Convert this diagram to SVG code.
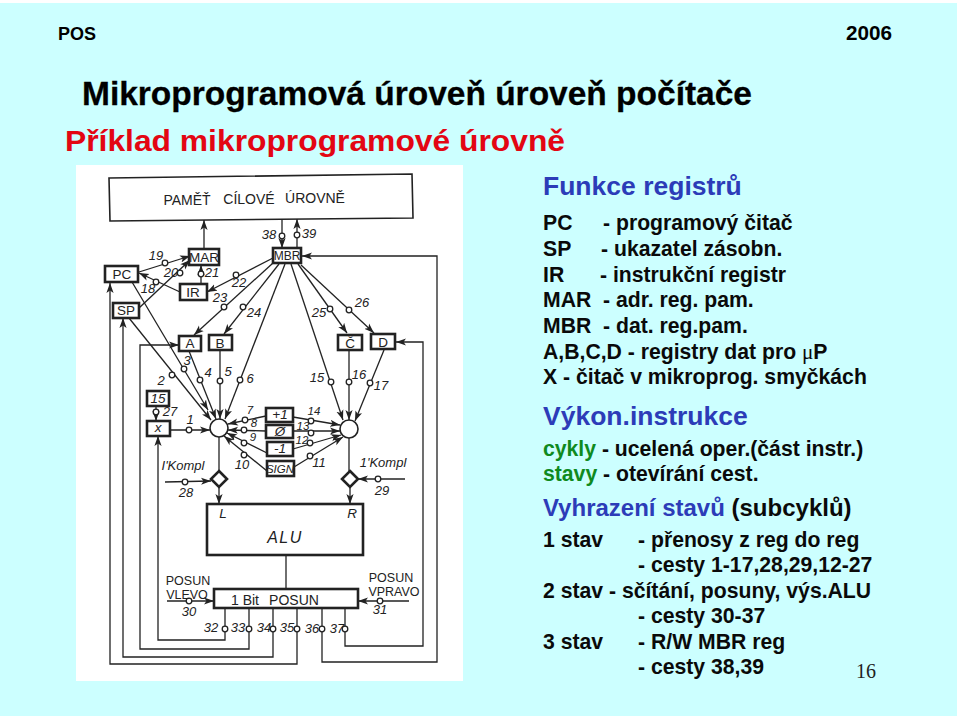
<svg xmlns="http://www.w3.org/2000/svg" width="960" height="720" viewBox="0 0 960 720">
<style>
text{font-family:"Liberation Sans",Arial,sans-serif}
.hd{font-weight:700;fill:#000}
.h2{font-size:26.5px;font-weight:700;fill:#2c3cb8}
.b{font-size:21.2px;font-weight:700;fill:#0a0a0a}
.g{fill:#0f8a1e}
.mu{font-family:"Liberation Serif",serif;font-weight:400}
.box{fill:#fff;stroke:#222;stroke-width:2.6}
.thin{stroke-width:1.6}
.lb{font-size:13px;font-style:italic;fill:#222;text-anchor:middle}
.sm{font-size:11.5px}
.nm{font-size:13.5px;fill:#222;text-anchor:middle}
.it{font-style:italic}
.c{fill:none;stroke:#222;stroke-width:1.3}
.a{marker-end:url(#ah)}
.sw{fill:#fff;stroke:#222;stroke-width:1.3}
</style>
<defs>
<marker id="ah" markerWidth="11" markerHeight="8" refX="10" refY="4" orient="auto" markerUnits="userSpaceOnUse"><path d="M0 0.4L10 4L0 7.6L2.5 4Z" fill="#222"/></marker>
</defs>
<rect width="960" height="720" fill="#fff"/>
<rect x="0" y="3" width="957" height="713" fill="#ccffff"/>
<rect x="76" y="165" width="387" height="516" fill="#fff"/>
<text id="hdr-l" class="hd" x="58" y="40" font-size="19" textLength="38" lengthAdjust="spacingAndGlyphs">POS</text>
<text id="hdr-r" class="hd" x="846" y="40" font-size="20" textLength="46" lengthAdjust="spacingAndGlyphs">2006</text>
<text id="title" class="hd" x="82" y="105" font-size="34" stroke="#000" stroke-width=".3" textLength="670" lengthAdjust="spacingAndGlyphs">Mikroprogramová úroveň úroveň počítače</text>
<text id="subtitle" x="65" y="151" font-size="29" font-weight="700" fill="#e30613" textLength="500" lengthAdjust="spacingAndGlyphs">Příklad mikroprogramové úrovně</text>

<g id="connectors">
<path class="c a" d="M204 248V220"/>
<path class="c a" d="M282 219V248"/>
<path class="c a" d="M297 248V219"/>
<path class="c a" d="M139 272L190 256"/>
<path class="c a" d="M139 308L190 260"/>
<path class="c a" d="M201 284V265"/>
<path class="c a" d="M180 292L139 273"/>
<path class="c a" d="M273 258L207 292"/>
<path class="c a" d="M273 263L194 335"/>
<path class="c a" d="M279 264L224 334"/>
<path class="c a" d="M285 264L225 419"/>
<path class="c a" d="M291 264L343 420"/>
<path class="c a" d="M298 264L347 333"/>
<path class="c a" d="M301 265L374 333"/>
<path class="c a" d="M132 282L208 410"/>
<path class="c a" d="M129 318L211 420"/>
<path class="c a" d="M189 351L216 419"/>
<path class="c a" d="M220 350V419"/>
<path class="c a" d="M349 350V420"/>
<path class="c a" d="M384 350L355 421"/>
<path class="c a" d="M156 406V421"/>
<path class="c a" d="M170 430H210"/>
<path class="c a" d="M266 416L228 424"/>
<path class="c a" d="M266 431L228 430"/>
<path class="c a" d="M267 453L227 433"/>
<path class="c a" d="M267 471L224 436"/>
<path class="c a" d="M293 417L340 425"/>
<path class="c a" d="M293 431L340 431"/>
<path class="c a" d="M293 449L341 435"/>
<path class="c a" d="M294 467L343 437"/>
<path class="c" d="M219 437V471"/>
<path class="c" d="M349 438V471"/>
<path class="c a" d="M219 487V504"/>
<path class="c a" d="M350 487V504"/>
<path class="c a" d="M165 482L211 481"/>
<path class="c a" d="M405 479H358"/>
<path class="c a" d="M167 601H214"/>
<path class="c a" d="M409 601H358"/>
<path class="c" d="M286 555V589"/>
<path class="c a" d="M225 608V640H158V436"/>
<path class="c a" d="M249 608V649H140V345H179"/>
<path class="c a" d="M273 608V657H123V318"/>
<path class="c a" d="M297 608V664H110V283"/>
<path class="c a" d="M322 608V662H437V256H302"/>
<path class="c a" d="M345 608V646H423V342H396"/>
<g id="switches">
<circle class="sw" cx="282" cy="236" r="2.8"/><circle class="sw" cx="297" cy="235" r="2.8"/>
<circle class="sw" cx="165" cy="263" r="2.8"/><circle class="sw" cx="180" cy="273" r="2.8"/>
<circle class="sw" cx="201" cy="274" r="2.8"/><circle class="sw" cx="156" cy="282" r="2.8"/>
<circle class="sw" cx="236" cy="275" r="2.8"/><circle class="sw" cx="224" cy="307" r="2.8"/>
<circle class="sw" cx="243" cy="307" r="2.8"/><circle class="sw" cx="240" cy="380" r="2.8"/>
<circle class="sw" cx="331" cy="382" r="2.8"/><circle class="sw" cx="330" cy="309" r="2.8"/>
<circle class="sw" cx="349" cy="310" r="2.8"/><circle class="sw" cx="184" cy="369" r="2.8"/>
<circle class="sw" cx="172" cy="375" r="2.8"/><circle class="sw" cx="200" cy="380" r="2.8"/>
<circle class="sw" cx="220" cy="381" r="2.8"/><circle class="sw" cx="349" cy="382" r="2.8"/>
<circle class="sw" cx="370" cy="383" r="2.8"/><circle class="sw" cx="156" cy="412" r="2.8"/>
<circle class="sw" cx="189" cy="430" r="2.8"/><circle class="sw" cx="245" cy="420" r="2.8"/>
<circle class="sw" cx="244" cy="430" r="2.8"/><circle class="sw" cx="244" cy="443" r="2.8"/>
<circle class="sw" cx="244" cy="455" r="2.8"/><circle class="sw" cx="311" cy="421" r="2.8"/>
<circle class="sw" cx="311" cy="433" r="2.8"/><circle class="sw" cx="310" cy="443" r="2.8"/>
<circle class="sw" cx="310" cy="456" r="2.8"/><circle class="sw" cx="185" cy="482" r="2.8"/>
<circle class="sw" cx="378" cy="479" r="2.8"/><circle class="sw" cx="189" cy="601" r="2.8"/>
<circle class="sw" cx="380" cy="601" r="2.8"/><circle class="sw" cx="225" cy="629" r="2.8"/>
<circle class="sw" cx="249" cy="629" r="2.8"/><circle class="sw" cx="273" cy="629" r="2.8"/>
<circle class="sw" cx="297" cy="629" r="2.8"/><circle class="sw" cx="322" cy="629" r="2.8"/>
<circle class="sw" cx="345" cy="629" r="2.8"/>
</g>
</g>

<g id="memory"><polygon class="box thin" points="109,178 412,174 413,218 110,221"/><text class="nm" x="187" y="205" style="font-size:14px">PAMĚŤ</text><text class="nm" x="249" y="204" style="font-size:14px">CÍLOVÉ</text><text class="nm" x="315" y="203" style="font-size:14px">ÚROVNĚ</text></g>
<g id="mbr"><rect class="box" x="273" y="248" width="28" height="15"/><text class="nm" x="287" y="260" style="font-size:12px">MBR</text></g>
<g id="mar"><rect class="box" x="189" y="249" width="30" height="16"/><text class="nm" x="204" y="262">MAR</text></g>
<g id="pc"><rect class="box" x="105" y="266" width="33" height="16"/><text class="nm" x="122" y="279">PC</text></g>
<g id="ir"><rect class="box" x="180" y="284" width="27" height="16"/><text class="nm" x="193" y="297">IR</text></g>
<g id="sp"><rect class="box" x="113" y="303" width="26" height="15"/><text class="nm" x="126" y="315">SP</text></g>
<g id="a"><rect class="box" x="179" y="336" width="22" height="15"/><text class="nm" x="190" y="348">A</text></g>
<g id="b"><rect class="box" x="209" y="335" width="23" height="15"/><text class="nm" x="220" y="348">B</text></g>
<g id="c"><rect class="box" x="338" y="335" width="24" height="15"/><text class="nm" x="350" y="348">Č</text></g>
<g id="d"><rect class="box" x="371" y="334" width="24" height="15"/><text class="nm" x="383" y="347">D</text></g>
<g id="r15"><rect class="box" x="147" y="391" width="22" height="15"/><text class="nm it" x="158" y="403">15</text></g>
<g id="x"><rect class="box" x="147" y="421" width="23" height="15"/><text class="nm it" x="158" y="432">x</text></g>
<g id="busL"><circle class="box thin" cx="219" cy="428" r="9"/></g>
<g id="busR"><circle class="box thin" cx="349" cy="429" r="9"/></g>
<g id="plus1"><rect class="box" x="266" y="408" width="27" height="14"/><text class="nm it" x="280" y="419">+1</text></g>
<g id="zero"><rect class="box" x="266" y="425" width="27" height="13"/><text class="nm it" x="280" y="436">Ø</text></g>
<g id="minus1"><rect class="box" x="267" y="442" width="26" height="14"/><text class="nm it" x="280" y="453">-1</text></g>
<g id="sign"><rect class="box" x="267" y="461" width="27" height="15"/><text class="nm it" x="280" y="473" style="font-size:11.5px">SIGN</text></g>
<g id="dL"><polygon class="box" points="219,471 227,479 219,487 211,479"/></g>
<g id="dR"><polygon class="box" points="350,471 358,479 350,487 342,479"/></g>
<g id="alu"><rect class="box" x="207" y="504" width="156" height="51"/><text class="nm it" x="223" y="518">L</text><text class="nm it" x="352" y="518">R</text><text class="nm it" x="285" y="543" letter-spacing="1.5" style="font-size:16px">ALU</text></g>
<g id="shift"><rect class="box" x="214" y="589" width="144" height="19"/><text class="nm" x="245" y="605" style="font-size:14px">1 Bit</text><text class="nm" x="294" y="605" style="font-size:14px">POSUN</text></g>

<g id="labels">
<text class="lb" x="156" y="260">19</text><text class="lb" x="171" y="277">20</text><text class="lb" x="212" y="277">21</text>
<text class="lb" x="148" y="293">18</text><text class="lb" x="239" y="287">22</text><text class="lb" x="220" y="302">23</text>
<text class="lb" x="254" y="317">24</text><text class="lb" x="319" y="317">25</text><text class="lb" x="362" y="307">26</text>
<text class="lb" x="187" y="365">3</text><text class="lb" x="161" y="385">2</text><text class="lb" x="208" y="377">4</text>
<text class="lb" x="228" y="376">5</text><text class="lb" x="250" y="383">6</text><text class="lb" x="317" y="382">15</text>
<text class="lb" x="359" y="379">16</text><text class="lb" x="381" y="390">17</text><text class="lb" x="170" y="416">27</text>
<text class="lb" x="269" y="239">38</text><text class="lb" x="309" y="238">39</text><text class="lb" x="190" y="424">1</text>
<text class="lb sm" x="250" y="414">7</text><text class="lb sm" x="254" y="427">8</text><text class="lb sm" x="253" y="441">9</text>
<text class="lb" x="242" y="469">10</text><text class="lb sm" x="314" y="415">14</text><text class="lb sm" x="303" y="430">13</text>
<text class="lb sm" x="302" y="444">12</text><text class="lb" x="319" y="467">11</text><text class="lb" x="186" y="497">28</text>
<text class="lb" x="382" y="495">29</text><text class="lb" x="189" y="616">30</text><text class="lb" x="380" y="614">31</text>
<text class="lb" x="211" y="632">32</text><text class="lb" x="238" y="632">33</text><text class="lb" x="264" y="632">34</text>
<text class="lb" x="287" y="632">35</text><text class="lb" x="312" y="633">36</text><text class="lb" x="337" y="633">37</text>
<text class="lb" x="183" y="470">I'Kompl</text><text class="lb" x="383" y="467">1'Kompl</text>
<text class="nm" x="188" y="585" style="font-size:12.5px">POSUN</text><text class="nm" x="187" y="599" style="font-size:12.5px">VLEVO</text>
<text class="nm" x="391" y="582" style="font-size:12.5px">POSUN</text><text class="nm" x="394" y="596" style="font-size:12.5px">VPRAVO</text>
</g>

<g id="text-right">
<text class="h2" x="543" y="195">Funkce registrů</text>
<text class="b" x="543" y="230">PC</text><text class="b" x="603" y="230">- programový čitač</text>
<text class="b" x="543" y="256">SP</text><text class="b" x="601" y="256">- ukazatel zásobn.</text>
<text class="b" x="543" y="282">IR</text><text class="b" x="600" y="282">- instrukční registr</text>
<text class="b" x="543" y="307">MAR</text><text class="b" x="603" y="307">- adr. reg. pam.</text>
<text class="b" x="543" y="333">MBR</text><text class="b" x="603" y="333">- dat. reg.pam.</text>
<text class="b" x="543" y="359">A,B,C,D - registry dat pro <tspan class="mu">μ</tspan>P</text>
<text class="b" x="543" y="384">X - čitač v mikroprog. smyčkách</text>
<text class="h2" x="543" y="425">Výkon.instrukce</text>
<text class="b" x="543" y="456"><tspan class="g">cykly</tspan> - ucelená oper.(část instr.)</text>
<text class="b" x="543" y="481"><tspan class="g">stavy</tspan> - otevírání cest.</text>
<text class="h2" x="543" y="516" style="font-size:24px">Vyhrazení stavů <tspan fill="#0a0a0a">(subcyklů)</tspan></text>
<text class="b" x="543" y="547">1 stav</text><text class="b" x="638" y="547">- přenosy z reg do reg</text>
<text class="b" x="638" y="572">- cesty 1-17,28,29,12-27</text>
<text class="b" x="543" y="598">2 stav - sčítání, posuny, výs.ALU</text>
<text class="b" x="638" y="623">- cesty 30-37</text>
<text class="b" x="543" y="649">3 stav</text><text class="b" x="638" y="649">- R/W MBR reg</text>
<text class="b" x="638" y="674">- cesty 38,39</text>
<text x="856" y="678" font-size="20" fill="#222" style="font-family:'Liberation Serif',serif">16</text>
</g>
</svg>
